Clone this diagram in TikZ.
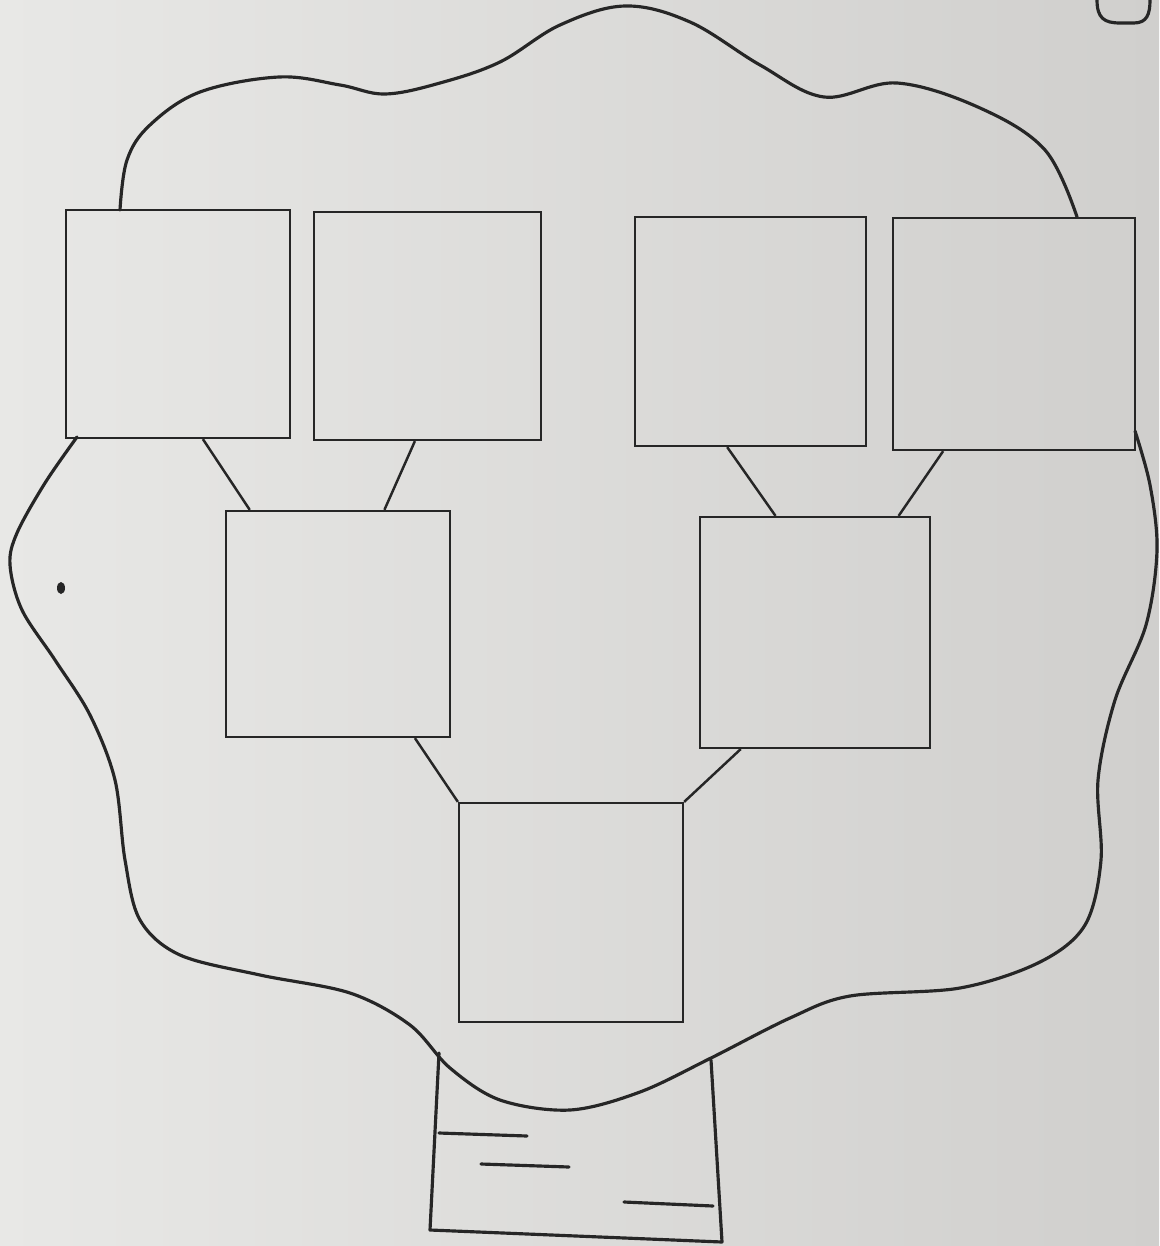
\documentclass[tikz,border=0pt]{standalone}
\usetikzlibrary{calc}
\definecolor{paperlight}{RGB}{232,232,230}
\definecolor{paperdark}{RGB}{208,207,205}
\definecolor{ink}{RGB}{38,38,38}
\begin{document}
\begin{tikzpicture}[x=0.01cm, y=-0.01cm,
    box/.style={rectangle, draw=ink, line width=0.6pt, inner sep=0pt},
    link/.style={draw=ink, line width=0.7pt},
    outline/.style={draw=ink, line width=0.9pt, line join=round, line cap=round}]

    \useasboundingbox (0,0) rectangle (1159,1246);
    \shade[left color=paperlight, right color=paperdark] (0,0) rectangle (1159,1246);

    % ============================================================
    % GRANDPARENTS
    % ============================================================
    \node[box, minimum width=2.24cm, minimum height=2.28cm] (gp1) at (178,324) {};
    \node[box, minimum width=2.27cm, minimum height=2.28cm] (gp2) at (427.5,326) {};
    \node[box, minimum width=2.31cm, minimum height=2.29cm] (gp3) at (750.5,331.5) {};
    \node[box, minimum width=2.42cm, minimum height=2.32cm] (gp4) at (1014,334) {};

    % ============================================================
    % PARENTS AND CHILD
    % ============================================================
    \node[box, minimum width=2.24cm, minimum height=2.26cm] (par1) at (338,624) {};
    \node[box, minimum width=2.30cm, minimum height=2.31cm] (par2) at (815,632.5) {};
    \node[box, minimum width=2.24cm, minimum height=2.19cm] (child) at (571,912.5) {};

    % ============================================================
    % BRANCHES
    % ============================================================
    \draw[link] ($(gp1.south west)!0.61!(gp1.south east)$) -- ($(par1.north west)!0.11!(par1.north east)$);
    \draw[link] ($(gp2.south west)!0.445!(gp2.south east)$) -- ($(par1.north west)!0.705!(par1.north east)$);
    \draw[link] ($(gp3.south west)!0.40!(gp3.south east)$) -- ($(par2.north west)!0.33!(par2.north east)$);
    \draw[link] ($(gp4.south west)!0.21!(gp4.south east)$) -- ($(par2.north west)!0.86!(par2.north east)$);
    \draw[link] ($(par1.south west)!0.84!(par1.south east)$) -- (child.north west);
    \draw[link] ($(par2.south west)!0.18!(par2.south east)$) -- (child.north east);

    % ============================================================
    % CROWN OF THE TREE
    % ============================================================
    \draw[outline] plot[smooth, tension=0.6] coordinates {
        (120,210) (127,160) (150,125) (200,92) (279,77) (340,85) (385,94)
        (440,83) (500,62) (560,25) (625,6) (690,22) (760,65) (824,97)
        (897,83) (980,108) (1045,150) (1077,217)};
    \draw[outline] plot[smooth, tension=0.55] coordinates {
        (77,437) (45,483) (17,533) (10,565) (22,610) (55,660) (90,715)
        (115,780) (125,860) (140,920) (180,955) (260,975) (350,993)
        (410,1025) (450,1068) (500,1100) (570,1110) (640,1092) (711,1058)
        (790,1018) (850,996) (960,988) (1040,962) (1085,925) (1101,860)
        (1098,780) (1115,700) (1146,625) (1157,550) (1150,485) (1135,431)};

    % ============================================================
    % TRUNK
    % ============================================================
    \draw[outline] (439,1053) -- (430,1230) -- (722,1242) -- (711,1060);
    \draw[outline] (439,1133) -- (527,1136);
    \draw[outline] (481,1164) -- (569,1167);
    \draw[outline] (624,1202) -- (713,1206);

    % corner of the next frame
    \draw[outline] (1097,0) .. controls (1097,18) and (1104,23) .. (1120,23)
        -- (1134,23) .. controls (1147,23) and (1150,14) .. (1150,0);

    % ink spot
    \fill[ink] (61,588) ellipse (4 and 6);

\end{tikzpicture}
\end{document}
